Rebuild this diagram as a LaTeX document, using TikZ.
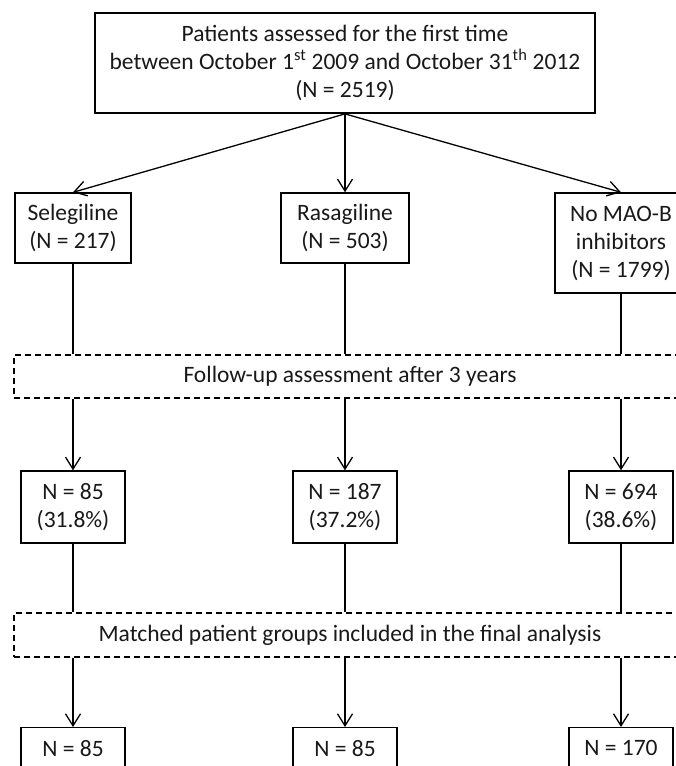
\documentclass[tikz,border=0pt]{standalone}
\usepackage{fontspec}
\setmainfont{Carlito}
\usetikzlibrary{arrows.meta}
\begin{document}
\begin{tikzpicture}[x=1pt,y=-1pt,
  box/.style={draw, line width=1.4pt, align=center, inner sep=0pt, text=black!90, font=\fontsize{23.5}{28}\selectfont},
  dbox/.style={draw, line width=1.3pt, dash pattern=on 6pt off 4pt, inner sep=0pt, text=black!90, font=\fontsize{23.5}{28}\selectfont},
  arr/.style={line width=1.3pt, -{Straight Barb[length=12pt,width=15pt,line width=1.3pt]}},
  ln/.style={line width=1.3pt}]
\clip (0,0) rectangle (676,766);
\fill[white] (0,0) rectangle (676,766);
% top
\node[box, line width=1.8pt, minimum width=500pt, minimum height=100pt] (top) at (345,63)
  {Patients assessed for the first time\\between October 1\textsuperscript{st} 2009 and October 31\textsuperscript{th} 2012\\(N = 2519)};
% first row
\node[box, minimum width=116pt, minimum height=70pt] (sel) at (73,228) {Selegiline\\(N = 217)};
\node[box, minimum width=128pt, minimum height=70pt] (ras) at (345,228) {Rasagiline\\(N = 503)};
\node[box, minimum width=132pt, minimum height=100pt] (nom) at (621,243) {No MAO-B\\inhibitors\\(N = 1799)};
% dashed bands
\node[dbox, minimum width=672pt, minimum height=43pt] (fu) at (350,376.5) {Follow-up assessment after 3 years};
\node[dbox, minimum width=672pt, minimum height=44pt] (mt) at (350,635) {Matched patient groups included in the final analysis};
% second row
\node[box, minimum width=104pt, minimum height=72pt] (a2) at (73,507) {N = 85\\(31.8\%)};
\node[box, minimum width=104pt, minimum height=72pt] (b2) at (345,507) {N = 187\\(37.2\%)};
\node[box, minimum width=104pt, minimum height=72pt] (c2) at (621,507) {N = 694\\(38.6\%)};
% third row
\node[box, anchor=north, minimum width=104pt, minimum height=72pt] (a3) at (73,727) {N = 85\\\phantom{(00.0\%)}};
\node[box, anchor=north, minimum width=104pt, minimum height=72pt] (b3) at (345,727) {N = 85\\\phantom{(00.0\%)}};
\node[box, anchor=north, minimum width=104pt, minimum height=72pt] (c3) at (621,727) {N = 170\\\phantom{(00.0\%)}};
% connectors
\draw[arr] (top.south) -- (sel.north);
\draw[arr] (top.south) -- (ras.north);
\draw[arr] (top.south) -- (nom.north);
\foreach \u/\v/\w in {sel/a2/a3, ras/b2/b3, nom/c2/c3}{
  \draw[ln] (\u.south) -- (\u.south |- fu.north);
  \draw[arr] (\u.south |- fu.south) -- (\v.north);
  \draw[ln] (\v.south) -- (\v.south |- mt.north);
  \draw[arr] (\v.south |- mt.south) -- (\w.north);
}
\end{tikzpicture}
\end{document}
